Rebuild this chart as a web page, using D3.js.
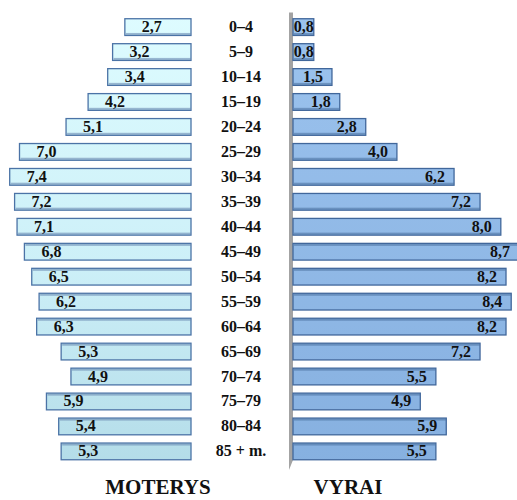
<!DOCTYPE html>
<html>
<head>
<meta charset="utf-8">
<script src="https://cdn.jsdelivr.net/npm/d3@7"></script>
<style>
body { margin: 0; background: #fff; }
</style>
</head>
<body>
<div id="chart"></div>
<script>
const ageGroups = ["0–4", "5–9", "10–14", "15–19", "20–24", "25–29", "30–34", "35–39", "40–44",
	"45–49", "50–54", "55–59", "60–64", "65–69", "70–74", "75–79", "80–84", "85 + m."];
const women = [2.7, 3.2, 3.4, 4.2, 5.1, 7.0, 7.4, 7.2, 7.1, 6.8, 6.5, 6.2, 6.3, 5.3, 4.9, 5.9, 5.4, 5.3];
const men = [0.8, 0.8, 1.5, 1.8, 2.8, 4.0, 6.2, 7.2, 8.0, 8.7, 8.2, 8.4, 8.2, 7.2, 5.5, 4.9, 5.9, 5.5];
const titles = ["MOTERYS", "VYRAI"];

const W = 517, H = 500;
const font = "'Liberation Serif', Tinos, 'Times New Roman', 'DejaVu Serif', serif";
const fmt = v => d3.format(".1f")(v).replace(".", ",");

const svg = d3.select("#chart").append("svg")
	.attr("width", W)
	.attr("height", H)
	.attr("font-family", font)
	.attr("font-weight", "bold");

const defs = svg.append("defs");
const gL = defs.append("linearGradient").attr("id", "gL")
	.attr("gradientUnits", "userSpaceOnUse")
	.attr("x1", 0).attr("y1", 10).attr("x2", 0).attr("y2", 470);
gL.append("stop").attr("offset", "0%").attr("stop-color", "#defcff");
gL.append("stop").attr("offset", "55%").attr("stop-color", "#cdf0f8");
gL.append("stop").attr("offset", "100%").attr("stop-color", "#b3dce8");
const gR = defs.append("linearGradient").attr("id", "gR")
	.attr("gradientUnits", "userSpaceOnUse")
	.attr("x1", 0).attr("y1", 10).attr("x2", 0).attr("y2", 470);
gR.append("stop").attr("offset", "0%").attr("stop-color", "#9cc3ee");
gR.append("stop").attr("offset", "100%").attr("stop-color", "#86b0e0");

const y = d3.scaleBand().domain(ageGroups).range([10.5, 468]).padding(0.33);
const xL = d3.scaleLinear().domain([0, 8]).range([191, -5]);
const xR = d3.scaleLinear().domain([0, 8.7]).range([293, 519]);
const mid = ageGroups.length / 2;

// gray axis at the centre of the right side
svg.append("path")
	.attr("d", `M289,${y.range()[0] + 2} L293,${y.range()[0] + 2} L293,${y.range()[1] - 8} L289,${y.range()[1] + 2} Z`)
	.attr("fill", "#a3a3a3");

// women bars
const left = svg.append("g");
left.selectAll("rect.bar").data(women).join("rect")
	.attr("class", "bar")
	.attr("x", d => xL(d))
	.attr("y", (d, i) => y(ageGroups[i]))
	.attr("width", d => xL(0) - xL(d))
	.attr("height", y.bandwidth())
	.attr("fill", "url(#gL)")
	.attr("stroke", "#4b73a6")
	.attr("stroke-width", 1.3);
left.selectAll("rect.depth").data(women).join("rect")
	.attr("class", "depth")
	.attr("x", d => xL(d) + 1)
	.attr("y", (d, i) => i < mid ? y(ageGroups[i]) + y.bandwidth() - 2.5 : y(ageGroups[i]) + 0.5)
	.attr("width", d => xL(0) - xL(d) - 1)
	.attr("height", 2)
	.attr("fill", "#6a8bb2")
	.attr("opacity", 0.6);
left.selectAll("text").data(women).join("text")
	.attr("x", d => xL(d) + 27)
	.attr("y", (d, i) => y(ageGroups[i]) + y.bandwidth() / 2 + 5)
	.attr("text-anchor", "middle")
	.attr("font-size", 16)
	.attr("fill", "#111")
	.text(fmt);

// men bars
const right = svg.append("g");
right.selectAll("rect.bar").data(men).join("rect")
	.attr("class", "bar")
	.attr("x", xR(0))
	.attr("y", (d, i) => y(ageGroups[i]))
	.attr("width", d => xR(d) - xR(0))
	.attr("height", y.bandwidth())
	.attr("fill", "url(#gR)")
	.attr("stroke", "#41679b")
	.attr("stroke-width", 1.3);
right.selectAll("rect.depth").data(men).join("rect")
	.attr("class", "depth")
	.attr("x", xR(0) + 1)
	.attr("y", (d, i) => i < mid ? y(ageGroups[i]) + y.bandwidth() - 2.5 : y(ageGroups[i]) + 0.5)
	.attr("width", d => xR(d) - xR(0) - 1)
	.attr("height", 2)
	.attr("fill", "#4f74a3")
	.attr("opacity", 0.6);
right.selectAll("text").data(men).join("text")
	.attr("x", d => d < 1 ? xR(d) : xR(d) - 9)
	.attr("y", (d, i) => y(ageGroups[i]) + y.bandwidth() / 2 + 5)
	.attr("text-anchor", "end")
	.attr("font-size", 16)
	.attr("fill", "#111")
	.text(fmt);

// age group labels
svg.append("g").selectAll("text").data(ageGroups).join("text")
	.attr("x", 241)
	.attr("y", d => y(d) + y.bandwidth() / 2 + 5)
	.attr("text-anchor", "middle")
	.attr("font-size", 16)
	.attr("fill", "#111")
	.text(d => d);

// titles
svg.append("g").selectAll("text").data(titles).join("text")
	.attr("x", (d, i) => i === 0 ? 158 : 348)
	.attr("y", 494)
	.attr("text-anchor", "middle")
	.attr("font-size", 21)
	.attr("fill", "#111")
	.text(d => d);
</script>
</body>
</html>
